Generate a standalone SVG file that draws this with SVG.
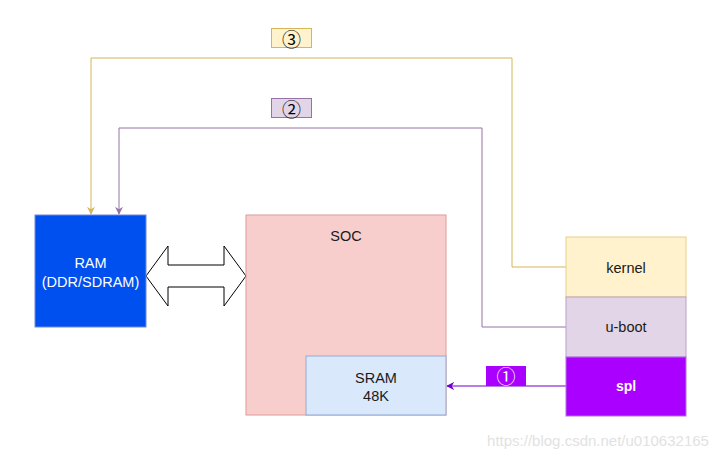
<svg xmlns="http://www.w3.org/2000/svg" width="724" height="460" viewBox="0 0 724 460">
<style>
text{font-family:"Liberation Sans",Arial,sans-serif;font-size:14.5px;text-anchor:middle}
.w{fill:#ffffff}
.d{fill:#1a1a1a}
.c{font-family:"Noto Sans CJK SC","DejaVu Sans",sans-serif;font-size:19px}
</style>
<defs>
<marker id="aY" viewBox="0 0 10 10" refX="9" refY="5" markerWidth="8" markerHeight="8" orient="auto" markerUnits="userSpaceOnUse"><path d="M0,0 L10,5 L0,10 L3,5 Z" fill="#d6b656"/></marker>
<marker id="aP" viewBox="0 0 10 10" refX="9" refY="5" markerWidth="8" markerHeight="8" orient="auto" markerUnits="userSpaceOnUse"><path d="M0,0 L10,5 L0,10 L3,5 Z" fill="#9673a6"/></marker>
<marker id="aV" viewBox="0 0 10 10" refX="9" refY="5" markerWidth="8" markerHeight="8" orient="auto" markerUnits="userSpaceOnUse"><path d="M0,0 L10,5 L0,10 L3,5 Z" fill="#7000cc"/></marker>
</defs>
<rect width="724" height="460" fill="#ffffff"/>
<g id="connectors" fill="none">
<polyline points="566,267 512,267 512,58 91,58 91,214" stroke="#d6b656" marker-end="url(#aY)"/>
<polyline points="566,327 482,327 482,128 119,128 119,214" stroke="#9673a6" marker-end="url(#aP)"/>
<line x1="566" y1="386" x2="447" y2="386" stroke="#7000cc" marker-end="url(#aV)"/>
<path d="M146,276 L168,246 L168,265 L224,265 L224,246 L246,276 L224,306 L224,287 L168,287 L168,306 Z" fill="#ffffff" stroke="#000000"/>
</g>
<g id="ram">
<rect x="35" y="215" width="111" height="112" fill="#0050ef" stroke="#6f87e0"/>
<text x="90.5" y="268" class="w">RAM</text>
<text x="90.5" y="287" class="w">(DDR/SDRAM)</text>
</g>
<g id="soc">
<rect x="246" y="215" width="200" height="200" fill="#f8cecc" stroke="#e09a9a"/>
<text x="346" y="241" class="d">SOC</text>
</g>
<g id="sram">
<rect x="306" y="356" width="140" height="59" fill="#dae8fc" stroke="#93a9d2"/>
<text x="376" y="383" class="d">SRAM</text>
<text x="376" y="401" class="d">48K</text>
</g>
<g id="kernel">
<rect x="566" y="237" width="120" height="60" fill="#fff2cc" stroke="#e8d08a"/>
<text x="626" y="273" class="d">kernel</text>
</g>
<g id="uboot">
<rect x="566" y="297" width="120" height="60" fill="#e1d5e7" stroke="#b9a2c8"/>
<text x="626" y="332" class="d">u-boot</text>
</g>
<g id="spl">
<rect x="566" y="357" width="120" height="59" fill="#aa00ff" stroke="#b070e0"/>
<text x="626" y="391" class="w" style="font-weight:bold;font-size:14px">spl</text>
</g>
<g id="label1">
<rect x="486" y="366" width="40" height="20" fill="#aa00ff"/>
<text x="506" y="384" fill="#ffffff" class="c">①</text>
</g>
<g id="label2">
<rect x="271.5" y="98.5" width="40" height="19" fill="#e1d5e7" stroke="#9673a6"/>
<text x="291.5" y="117" fill="#000000" class="c">②</text>
</g>
<g id="label3">
<rect x="271.5" y="28.5" width="40" height="19" fill="#fff2cc" stroke="#d6b656"/>
<text x="291.5" y="47" fill="#000000" class="c">③</text>
</g>
<text x="598" y="446" fill="#e2e2e2" style="font-size:15px">https://blog.csdn.net/u010632165</text>
</svg>
